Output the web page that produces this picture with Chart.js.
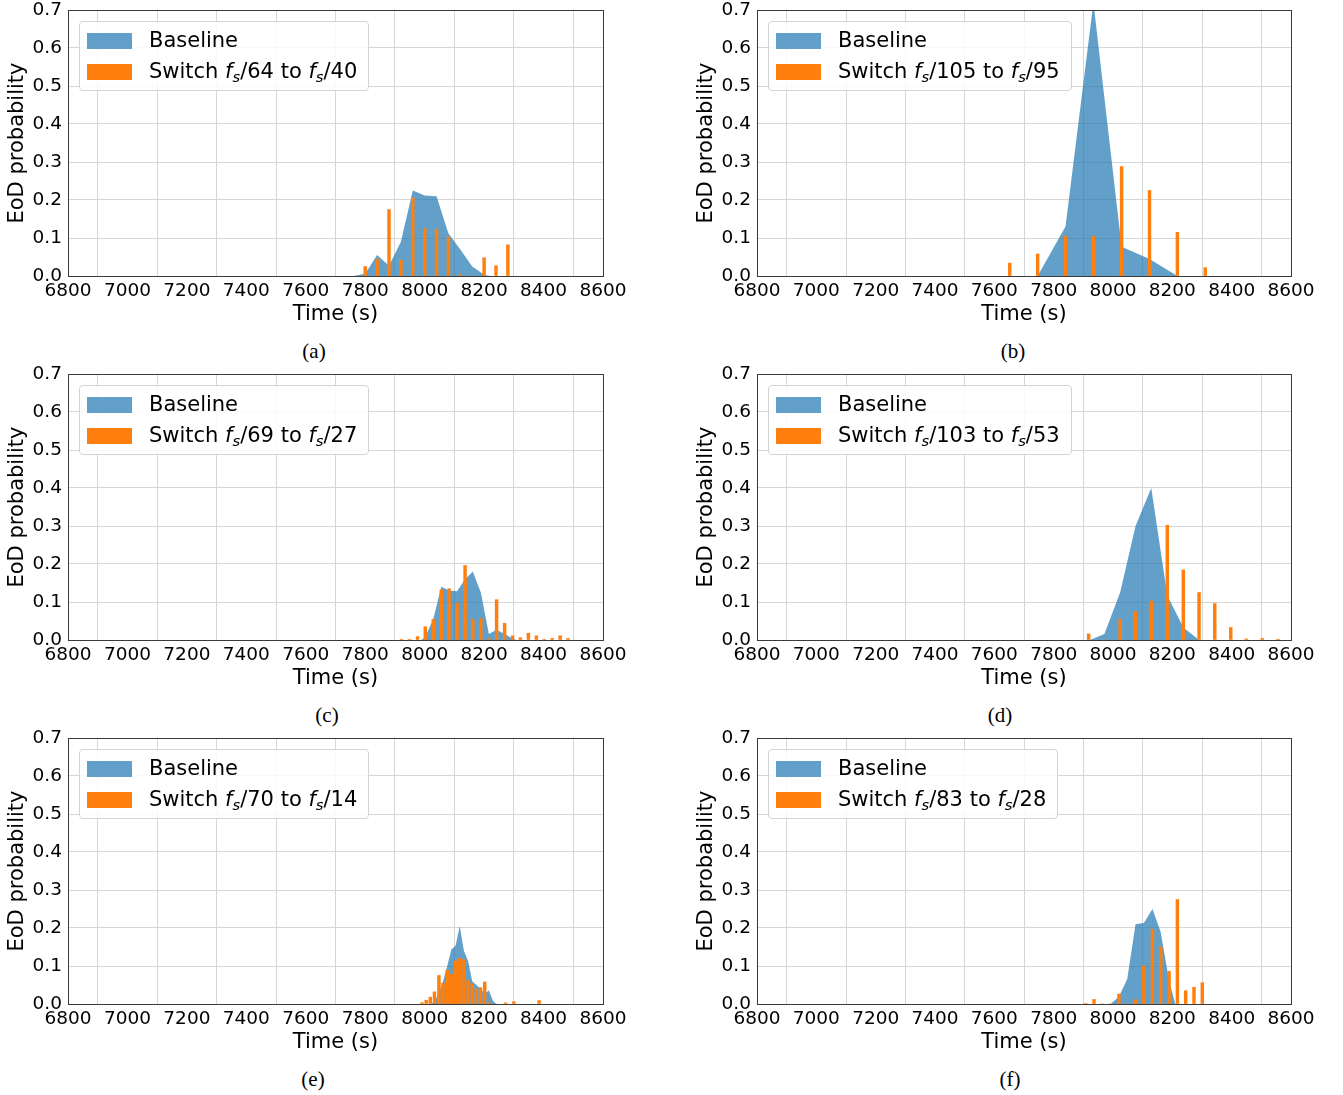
<!DOCTYPE html>
<html>
<head>
<meta charset="utf-8">
<script src="https://cdn.jsdelivr.net/npm/chart.js@4.4.1/dist/chart.umd.min.js"></script>
<style>
  html, body { margin: 0; padding: 0; background: #fff; }
  #page { position: relative; width: 1343px; height: 1095px; }
  .panel { position: absolute; width: 640px; height: 330px; }
  .legend {
    position: absolute; top: 21px; left: 79px;
    border: 1px solid #d4d4d4; border-radius: 4px;
    background: rgba(255, 255, 255, 0.85);
    padding: 3px 11px 3px 7px;
    font: 21px "DejaVu Sans", sans-serif; color: #000;
  }
  .row { height: 31px; display: flex; align-items: center; white-space: nowrap; line-height: 1; }
  .patch { display: inline-block; width: 45px; height: 16px; margin-right: 17px; flex: none; }
  .blue { background: rgba(31, 119, 180, 0.7); }
  .orange { background: #ff7f0e; }
  .label { white-space: pre; }
  .label i { font-style: italic; }
  .label sub { font-size: 0.7em; font-style: italic; vertical-align: -0.3em; line-height: 0; }
  .caption {
    position: absolute; width: 60px; margin-left: -30px; text-align: center;
    font: 21px "Liberation Serif", "Times New Roman", serif; line-height: 24px;
  }
</style>
</head>
<body>
<div id="page"></div>
<script>
// tick labels
const timeTicks = [6800, 7000, 7200, 7400, 7600, 7800, 8000, 8200, 8400, 8600];
const probTicks = [0.0, 0.1, 0.2, 0.3, 0.4, 0.5, 0.6, 0.7];

// (a)
const baseTimeA = [7760, 7800, 7840, 7880, 7920, 7960, 8000, 8040, 8080, 8120, 8160, 8200, 8220];
const baseProbA = [0.0, 0.006, 0.055, 0.027, 0.09, 0.225, 0.212, 0.21, 0.112, 0.07, 0.025, 0.003, 0.0];
const switchTimeA = [7800, 7840, 7880, 7920, 7960, 8000, 8040, 8080, 8120, 8160, 8200, 8240, 8280];
const switchProbA = [0.025, 0.044, 0.175, 0.042, 0.206, 0.125, 0.123, 0.103, 0.005, 0.0, 0.048, 0.027, 0.082];

// (b)
const baseTimeB = [7746, 7840, 7934, 8029, 8123, 8217];
const baseProbB = [0.0, 0.13, 0.72, 0.077, 0.045, 0.0];
const switchTimeB = [7652, 7746, 7840, 7934, 8029, 8123, 8217, 8311];
const switchProbB = [0.034, 0.058, 0.105, 0.104, 0.288, 0.225, 0.115, 0.022];

// (c)
const baseTimeC = [7988, 8002, 8029, 8056, 8082, 8109, 8136, 8162, 8189, 8216, 8242, 8269, 8296, 8310];
const baseProbC = [0.0, 0.008, 0.055, 0.14, 0.13, 0.128, 0.16, 0.18, 0.125, 0.016, 0.027, 0.016, 0.003, 0.0];
const switchTimeC = [7922, 7949, 7976, 8002, 8029, 8056, 8082, 8109, 8136, 8162, 8189, 8216, 8242, 8269, 8296, 8322, 8349, 8376, 8402, 8429, 8456, 8482];
const switchProbC = [0.001, 0.001, 0.009, 0.035, 0.054, 0.132, 0.135, 0.097, 0.196, 0.054, 0.057, 0.004, 0.106, 0.044, 0.011, 0.006, 0.018, 0.011, 0.001, 0.004, 0.011, 0.004];

// (d)
const baseTimeD = [7922, 7971, 8024, 8076, 8129, 8183, 8237, 8290];
const baseProbD = [0.0, 0.016, 0.125, 0.30, 0.40, 0.117, 0.033, 0.0];
const switchTimeD = [7918, 7971, 8024, 8076, 8129, 8183, 8237, 8290, 8343, 8397, 8449, 8503, 8556];
const switchProbD = [0.016, 0.0, 0.055, 0.075, 0.102, 0.302, 0.184, 0.125, 0.096, 0.033, 0.003, 0.004, 0.002];

// (e)
const baseTimeE = [8020, 8033, 8048, 8062, 8076, 8090, 8104, 8118, 8132, 8146, 8160, 8174, 8188, 8202, 8216, 8230, 8242];
const baseProbE = [0.0, 0.005, 0.03, 0.06, 0.1, 0.144, 0.153, 0.205, 0.14, 0.113, 0.06, 0.05, 0.04, 0.026, 0.036, 0.008, 0.0];
const switchTimeE = [7991, 8005, 8019, 8033, 8048, 8062, 8076, 8090, 8104, 8118, 8132, 8146, 8160, 8174, 8188, 8202, 8216, 8272, 8300, 8385];
const switchProbE = [0.0035, 0.01, 0.018, 0.032, 0.075, 0.055, 0.089, 0.078, 0.113, 0.12, 0.117, 0.062, 0.054, 0.04, 0.043, 0.058, 0.0035, 0.003, 0.006, 0.009];

// (f)
const baseTimeF = [7992, 8020, 8048, 8076, 8104, 8133, 8161, 8189, 8210];
const baseProbF = [0.0, 0.019, 0.066, 0.21, 0.213, 0.25, 0.189, 0.061, 0.0];
const switchTimeF = [7908, 7936, 7964, 7992, 8020, 8048, 8076, 8104, 8133, 8161, 8189, 8217, 8245, 8273, 8301];
const switchProbF = [0.001, 0.012, 0.0, 0.0, 0.026, 0.0, 0.011, 0.1, 0.196, 0.151, 0.086, 0.275, 0.035, 0.044, 0.056];

// legend numbers and captions
const switchFrom = [64, 105, 69, 103, 70, 83];
const switchTo = [40, 95, 27, 53, 14, 28];
const panelTags = ['(a)', '(b)', '(c)', '(d)', '(e)', '(f)'];

const panels = [
  [baseTimeA, baseProbA, switchTimeA, switchProbA],
  [baseTimeB, baseProbB, switchTimeB, switchProbB],
  [baseTimeC, baseProbC, switchTimeC, switchProbC],
  [baseTimeD, baseProbD, switchTimeD, switchProbD],
  [baseTimeE, baseProbE, switchTimeE, switchProbE],
  [baseTimeF, baseProbF, switchTimeF, switchProbF]
];

// where each panel sits on the page
const panelLeft = [0, 689];
const panelTop = [0, 364, 728];
const captionX = [314, 1013, 327, 1000, 313, 1010];

const zip = (xs, ys) => xs.map((x, i) => ({ x: x, y: ys[i] }));

// draw the box round the plot, like matplotlib spines
const framePlugin = {
  id: 'frame',
  afterDraw(chart) {
    const a = chart.chartArea;
    const c = chart.ctx;
    c.save();
    c.strokeStyle = '#3a3a3a';
    c.lineWidth = 1;
    c.strokeRect(Math.round(a.left) + 0.5, Math.round(a.top) + 0.5,
      Math.round(a.right - a.left), Math.round(a.bottom - a.top));
    c.restore();
  }
};

const page = document.getElementById('page');

panels.forEach((p, i) => {
  const col = i % 2;
  const rowTop = panelTop[Math.floor(i / 2)];

  const box = document.createElement('div');
  box.className = 'panel';
  box.style.left = panelLeft[col] + 'px';
  box.style.top = rowTop + 'px';
  const canvas = document.createElement('canvas');
  canvas.width = 640;
  canvas.height = 330;
  box.appendChild(canvas);

  const fs = '<i>f</i><sub>s</sub>';
  const legend = document.createElement('div');
  legend.className = 'legend';
  legend.innerHTML =
    '<div class="row"><span class="patch blue"></span><span class="label">Baseline</span></div>' +
    '<div class="row"><span class="patch orange"></span><span class="label">Switch ' + fs + '/' +
    switchFrom[i] + ' to ' + fs + '/' + switchTo[i] + '</span></div>';
  box.appendChild(legend);
  page.appendChild(box);

  const cap = document.createElement('div');
  cap.className = 'caption';
  cap.textContent = panelTags[i];
  cap.style.left = captionX[i] + 'px';
  cap.style.top = (rowTop + 339) + 'px';
  page.appendChild(cap);

  new Chart(canvas, {
    type: 'bar',
    data: {
      datasets: [
        {
          type: 'line',
          label: 'Baseline',
          data: zip(p[0], p[1]),
          fill: 'origin',
          backgroundColor: 'rgba(31, 119, 180, 0.7)',
          borderColor: 'rgba(0, 0, 0, 0)',
          borderWidth: 0,
          pointRadius: 0,
          tension: 0,
          order: 2
        },
        {
          type: 'bar',
          label: 'Switch',
          data: zip(p[2], p[3]),
          backgroundColor: '#ff7f0e',
          barThickness: 2.8,
          order: 1
        }
      ]
    },
    options: {
      responsive: false,
      animation: false,
      layout: { padding: { top: 10, right: col === 0 ? 37 : 38, bottom: 0, left: 0 } },
      plugins: { legend: { display: false }, tooltip: { enabled: false } },
      scales: {
        x: {
          type: 'linear',
          offset: false,
          min: 6800,
          max: 8600,
          afterBuildTicks: s => { s.ticks = timeTicks.map(v => ({ value: v })); },
          afterFit: s => { s.height = 54; s.paddingLeft = 0; s.paddingRight = 0; },
          grid: { color: '#d6d6d6', lineWidth: 1, drawTicks: false },
          border: { display: false },
          ticks: {
            padding: 4,
            color: '#000',
            maxRotation: 0,
            font: { family: 'DejaVu Sans', size: 18.5 },
            callback: v => String(v)
          },
          title: {
            display: true,
            text: 'Time (s)',
            color: '#000',
            font: { family: 'DejaVu Sans', size: 21 },
            padding: { top: 4, bottom: 3 }
          }
        },
        y: {
          min: 0,
          max: 0.7,
          afterBuildTicks: s => { s.ticks = probTicks.map(v => ({ value: v })); },
          afterFit: s => { s.width = 68; s.paddingTop = 0; s.paddingBottom = 0; },
          grid: { color: '#d6d6d6', lineWidth: 1, drawTicks: false },
          border: { display: false },
          ticks: {
            padding: 6,
            color: '#000',
            font: { family: 'DejaVu Sans', size: 18.5 },
            callback: v => v.toFixed(1)
          },
          title: {
            display: true,
            text: 'EoD probability',
            color: '#000',
            font: { family: 'DejaVu Sans', size: 21 },
            padding: { top: 5, bottom: 0 }
          }
        }
      }
    },
    plugins: [framePlugin]
  });
});
</script>
</body>
</html>
